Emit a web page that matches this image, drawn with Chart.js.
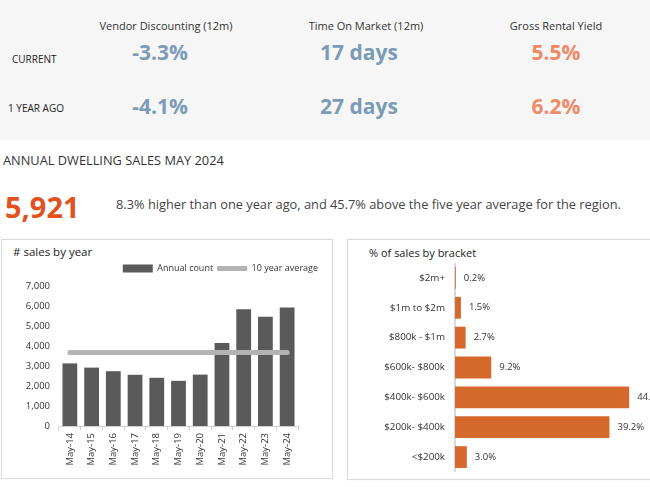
<!DOCTYPE html>
<html>
<head>
<meta charset="utf-8">
<script src="https://cdn.jsdelivr.net/npm/chart.js@4.4.1/dist/chart.umd.min.js"></script>
<style>
  body { margin: 0; width: 650px; height: 487px; overflow: hidden; position: relative; background: #fff; font-family: "Open Sans", sans-serif; color: #333; }
  .t { position: absolute; white-space: nowrap; line-height: 1; }
  .c { transform: translateX(-50%); }
  #topPanel { position: absolute; left: 0; top: 0; width: 650px; height: 140px; background: #f6f6f6; }
  .hdr { font-size: 11px; color: #333; }
  .big { font-size: 21px; font-weight: 700; }
  .rowlbl { font-size: 10px; color: #222; }
  .box { position: absolute; border: 1px solid #dadada; background: #fff; box-shadow: 0 0 2px rgba(0,0,0,0.06); }
  .wrap { position: absolute; }
</style>
</head>
<body>
<div id="topPanel"></div>
<div id="stats"></div>

<div class="t" style="left:3px;top:154px;font-size:12.8px;color:#333;">ANNUAL DWELLING SALES MAY 2024</div>
<div class="t" style="left:5px;top:192px;font-size:29px;font-weight:700;color:#e2521f;">5,921</div>
<div class="t" style="left:116px;top:198px;font-size:12.8px;color:#444;">8.3% higher than one year ago, and 45.7% above the five year average for the region.</div>

<div class="box" style="left:1px;top:239px;width:330px;height:238px;"></div>
<div class="box" style="left:347px;top:239px;width:330px;height:239px;"></div>

<div class="t" style="left:13px;top:246px;font-size:11.5px;color:#222;"># sales by year</div>
<div class="t" style="left:369px;top:247px;font-size:11px;color:#222;">% of sales by bracket</div>

<div class="wrap" style="left:2px;top:260px;width:320px;height:216px;"><canvas id="salesChart"></canvas></div>
<div class="wrap" style="left:347px;top:263px;width:340px;height:209px;"><canvas id="bracketChart"></canvas></div>

<script>
// top summary figures
const statHeaders = ['Vendor Discounting (12m)', 'Time On Market (12m)', 'Gross Rental Yield'];
const currentStats = ['-3.3%', '17 days', '5.5%'];
const yearAgoStats = ['-4.1%', '27 days', '6.2%'];
const statRows = ['CURRENT', '1 YEAR AGO'];

// annual dwelling sales
const years = ['May-14', 'May-15', 'May-16', 'May-17', 'May-18', 'May-19', 'May-20', 'May-21', 'May-22', 'May-23', 'May-24'];
const annualCount = [3130, 2920, 2740, 2560, 2410, 2260, 2570, 4150, 5840, 5460, 5921];
const tenYearAverage = [3680, 3680, 3680, 3680, 3680, 3680, 3680, 3680, 3680, 3680, 3680];

// % of sales by price bracket
const brackets = ['$2m+', '$1m to $2m', '$800k - $1m', '$600k- $800k', '$400k- $600k', '$200k- $400k', '<$200k'];
const bracketShare = [0.2, 1.5, 2.7, 9.2, 44.2, 39.2, 3.0];

const colX = [166, 366, 556];
const bigShift = [-6, -7, 0];
const statColors = ['#7b9bb6', '#7b9bb6', '#ef8a68'];

function buildStats() {
    const el = document.getElementById('stats');
    let html = '';
    statHeaders.forEach((h, i) => {
        const x = colX[i] + bigShift[i];
        html += `<div class="t c hdr" style="left:${colX[i]}px;top:20px;">${h}</div>`;
        html += `<div class="t c big" style="left:${x}px;top:42px;color:${statColors[i]}">${currentStats[i]}</div>`;
        html += `<div class="t c big" style="left:${x}px;top:96px;color:${statColors[i]}">${yearAgoStats[i]}</div>`;
    });
    html += `<div class="t rowlbl" style="left:12px;top:54px;">${statRows[0]}</div>`;
    html += `<div class="t rowlbl" style="left:8px;top:103px;">${statRows[1]}</div>`;
    el.innerHTML = html;
}
buildStats();

Chart.defaults.font.family = "'Open Sans', sans-serif";
Chart.defaults.color = '#333';
Chart.defaults.animation = false;

// leave a little room between the legend and the plot
const legendGap = {
    id: 'legendGap',
    afterInit(chart) {
        const legend = chart.legend;
        if (!legend || legend._gap) return;
        const fit = legend.fit;
        legend.fit = function () { fit.call(this); this.height += 3; };
        legend._gap = true;
    }
};

function initializeSalesChart() {
    const ctx = document.getElementById('salesChart');
    new Chart(ctx, {
        data: {
            labels: years,
            datasets: [
                {
                    type: 'bar',
                    label: 'Annual count',
                    data: annualCount,
                    backgroundColor: '#5a5a5a',
                    categoryPercentage: 1,
                    barPercentage: 0.68,
                    pointStyle: 'rect',
                    order: 1
                },
                {
                    type: 'line',
                    label: '10 year average',
                    data: tenYearAverage,
                    borderColor: '#b3b3b3',
                    backgroundColor: '#b3b3b3',
                    borderWidth: 5,
                    borderCapStyle: 'round',
                    pointRadius: 0,
                    pointStyle: 'line',
                    order: 0
                }
            ]
        },
        options: {
            responsive: true,
            maintainAspectRatio: false,
            layout: { padding: 0 },
            plugins: {
                tooltip: { enabled: false },
                legend: {
                    position: 'top',
                    align: 'end',
                    labels: {
                        usePointStyle: true,
                        pointStyleWidth: 30,
                        boxHeight: 8,
                        padding: 4,
                        font: { size: 9 },
                        color: '#333',
                        sort: (a, b) => a.datasetIndex - b.datasetIndex
                    }
                }
            },
            scales: {
                x: {
                    grid: { display: true, drawOnChartArea: false, drawTicks: true, tickLength: 4, color: '#d0d0d0' },
                    border: { display: true, color: '#d0d0d0' },
                    ticks: { minRotation: 90, maxRotation: 90, padding: 3, font: { size: 9.5 }, color: '#333' },
                    afterFit: s => { s.height = 50; }
                },
                y: {
                    min: 0,
                    max: 7000,
                    grid: { display: false, drawTicks: false },
                    border: { display: false },
                    ticks: {
                        stepSize: 1000,
                        padding: 9,
                        font: { size: 9.5 },
                        color: '#333',
                        callback: v => v.toLocaleString('en-US')
                    },
                    afterFit: s => { s.width = 57; }
                },
                yRight: {
                    position: 'right',
                    grid: { display: false, drawTicks: false },
                    border: { display: false },
                    ticks: { display: false },
                    afterFit: s => { s.width = 24; }
                }
            }
        },
        plugins: [legendGap]
    });
}

const barLabels = {
    id: 'barLabels',
    afterDatasetsDraw(chart) {
        const c = chart.ctx;
        const meta = chart.getDatasetMeta(0);
        c.save();
        c.font = "9.5px 'Open Sans', sans-serif";
        c.fillStyle = '#333';
        c.textBaseline = 'middle';
        c.textAlign = 'left';
        meta.data.forEach((bar, i) => {
            c.fillText(bracketShare[i].toFixed(1) + '%', bar.x + 8, bar.y);
        });
        c.restore();
    }
};

function initializeBracketChart() {
    const ctx = document.getElementById('bracketChart');
    new Chart(ctx, {
        type: 'bar',
        data: {
            labels: brackets,
            datasets: [{
                label: '% of sales',
                data: bracketShare,
                backgroundColor: '#d5692b',
                categoryPercentage: 1,
                barPercentage: 0.73
            }]
        },
        options: {
            indexAxis: 'y',
            responsive: true,
            maintainAspectRatio: false,
            layout: { padding: { left: 0, right: 35, top: 0, bottom: 0 } },
            plugins: {
                legend: { display: false },
                tooltip: { enabled: false }
            },
            scales: {
                x: { display: false, min: 0, max: 50 },
                y: {
                    grid: { display: false, drawTicks: false },
                    border: { display: true, color: '#d9d9d9', width: 2 },
                    ticks: { padding: 10, font: { size: 9.8 }, color: '#333' },
                    afterFit: s => { s.width = 108; s.paddingTop = 0; s.paddingBottom = 0; }
                }
            }
        },
        plugins: [barLabels]
    });
}

initializeSalesChart();
initializeBracketChart();
</script>
</body>
</html>
